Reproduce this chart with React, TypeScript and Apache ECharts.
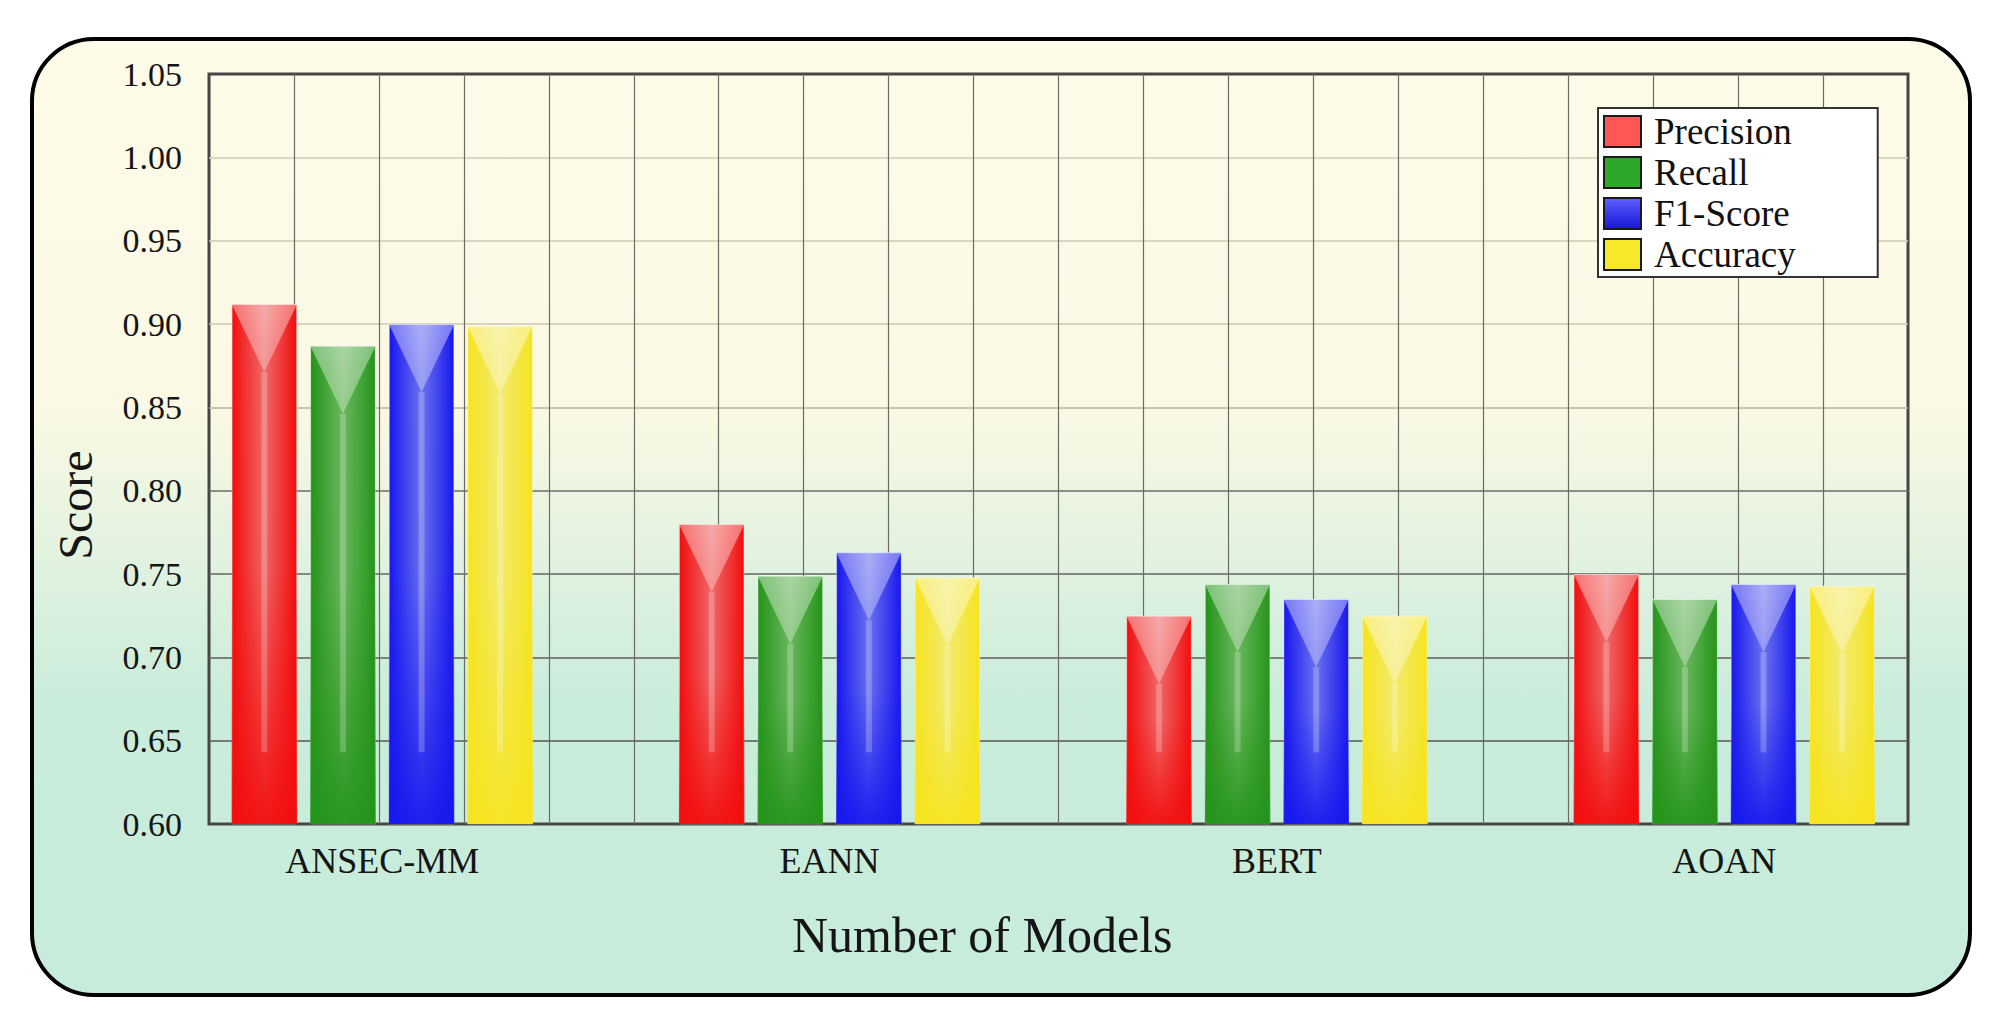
import React, { useEffect, useRef } from "react";
import * as echarts from "echarts";

// ---- data ----
const categories = ["ANSEC-MM", "EANN", "BERT", "AOAN"];
const seriesNames = ["Precision", "Recall", "F1-Score", "Accuracy"];
const precision = [0.912, 0.78, 0.725, 0.75];
const recall = [0.887, 0.749, 0.744, 0.735];
const f1Score = [0.9, 0.763, 0.735, 0.744];
const accuracy = [0.899, 0.748, 0.725, 0.743];
const yMin = 0.6;
const yMax = 1.05;
const yStep = 0.05;
const stripeEnd = 0.643;
const gridColumns = 20;

const seriesValues = [precision, recall, f1Score, accuracy];

// ---- styles ----
const FONT = "'Liberation Serif', 'Times New Roman', serif";
const baseColors = ["#f20d0d", "#24941a", "#1717ee", "#f6e41f"];
const lightColors = ["#ef6b6b", "#6cb85f", "#6d74ef", "#f2ea72"];
const legendColors: any[] = [
  "#ff5656",
  "#2fa82a",
  { type: "linear", x: 0, y: 0, x2: 0, y2: 1, colorStops: [{ offset: 0, color: "#6060ff" }, { offset: 1, color: "#1616d6" }] },
  "#f8e82a",
];

const BAR_W = 65.5;
const GAP_RATIO = 0.2;
const V_DEPTH = 68;

function hexToRgba(hex: string, a: number) {
  const h = hex.replace("#", "");
  const r = parseInt(h.slice(0, 2), 16);
  const g = parseInt(h.slice(2, 4), 16);
  const b = parseInt(h.slice(4, 6), 16);
  return `rgba(${r},${g},${b},${a})`;
}

export default function App() {
  const ref = useRef<HTMLDivElement>(null);

  useEffect(() => {
    if (!ref.current) return;
    const chart = echarts.init(ref.current, undefined, { renderer: "svg" });

    const barSeries = seriesNames.map((name, k) => ({
      name,
      type: "bar",
      xAxisIndex: 1,
      yAxisIndex: 1,
      barWidth: BAR_W,
      barGap: `${GAP_RATIO * 100}%`,
      data: seriesValues[k],
      z: 3,
      itemStyle: {
        color: {
          type: "linear",
          x: 0,
          y: 0,
          x2: 1,
          y2: 0,
          colorStops: [
            { offset: 0, color: baseColors[k] },
            { offset: 0.5, color: lightColors[k] },
            { offset: 1, color: baseColors[k] },
          ],
        },
        borderColor: "rgba(255,255,255,0.35)",
        borderWidth: 1,
      },
    }));

    const glossSeries = seriesNames.map((name, k) => ({
      name,
      type: "custom",
      xAxisIndex: 1,
      yAxisIndex: 1,
      silent: true,
      z: 4,
      data: seriesValues[k].map((v, i) => [i, v]),
      renderItem: (params: any, api: any) => {
        const c = api.value(0);
        const v = api.value(1);
        const top = api.coord([c, v]);
        const base = api.coord([c, yMin]);
        const lineEnd = api.coord([c, stripeEnd]);
        const cx = top[0] + (k - 1.5) * (BAR_W * (1 + GAP_RATIO));
        const x0 = cx - BAR_W / 2;
        const h = base[1] - top[1];
        const tipY = top[1] + V_DEPTH;
        return {
          type: "group",
          children: [
            {
              type: "rect",
              shape: { x: x0, y: top[1], width: BAR_W, height: h },
              style: {
                fill: {
                  type: "linear",
                  x: 0,
                  y: 0,
                  x2: 0,
                  y2: 1,
                  colorStops: [
                    { offset: 0, color: hexToRgba(baseColors[k], 0) },
                    { offset: 0.5, color: hexToRgba(baseColors[k], 0.05) },
                    { offset: 1, color: hexToRgba(baseColors[k], 0.9) },
                  ],
                },
              },
            },
            {
              type: "polygon",
              shape: { points: [[x0, top[1]], [x0 + BAR_W, top[1]], [cx, tipY]] },
              style: {
                fill: {
                  type: "linear",
                  x: 0,
                  y: 0,
                  x2: 0,
                  y2: 1,
                  colorStops: [
                    { offset: 0, color: "rgba(255,255,255,0.42)" },
                    { offset: 1, color: "rgba(255,255,255,0.3)" },
                  ],
                },
              },
            },
            {
              type: "rect",
              shape: { x: cx - 3, y: tipY, width: 6, height: Math.max(0, lineEnd[1] - tipY) },
              style: { fill: "rgba(255,255,255,0.22)" },
            },
          ],
        };
      },
    }));

    const option: any = {
      animation: false,
      backgroundColor: "#ffffff",
      graphic: [
        {
          type: "rect",
          z: -10,
          silent: true,
          shape: { x: 32, y: 39, width: 1938, height: 956, r: 62 },
          style: {
            fill: {
              type: "linear",
              x: 0,
              y: 0,
              x2: 0,
              y2: 1,
              colorStops: [
                { offset: 0, color: "#fefbe8" },
                { offset: 0.38, color: "#fbf9e4" },
                { offset: 0.7, color: "#c9ecdb" },
                { offset: 1, color: "#c8ecdb" },
              ],
            },
            stroke: "#000000",
            lineWidth: 4,
          },
        },
      ],
      legend: {
        orient: "vertical",
        left: 1598,
        top: 108,
        itemWidth: 37,
        itemHeight: 31,
        itemGap: 4,
        padding: [5, 82, 4, 5],
        backgroundColor: "#ffffff",
        borderColor: "#333333",
        borderWidth: 2,
        selectedMode: false,
        icon: "rect",
        textStyle: { fontFamily: FONT, fontSize: 37, color: "#111111", padding: [0, 0, 0, 8] },
        data: seriesNames.map((name, k) => ({
          name,
          icon: "rect",
          itemStyle: { color: legendColors[k], borderColor: "#1a1a1a", borderWidth: 2 },
        })),
      },
      grid: [
        {
          left: 209,
          right: 83,
          top: 74,
          bottom: 194,
          show: true,
          backgroundColor: "transparent",
          borderColor: "#454545",
          borderWidth: 3,
          outerBoundsMode: "none",
        },
        {
          left: 158.6,
          right: 43.1,
          top: 74,
          bottom: 194,
          outerBoundsMode: "none",
        },
      ],
      xAxis: [
        {
          type: "value",
          gridIndex: 0,
          min: 0,
          max: gridColumns,
          interval: 1,
          axisLabel: { show: false },
          axisLine: { show: false },
          axisTick: { show: false },
          splitLine: {
            show: true,
            showMinLine: false,
            showMaxLine: false,
            lineStyle: { color: "#6c6c62", width: 1.2 },
          },
        },
        {
          type: "category",
          gridIndex: 1,
          data: categories,
          boundaryGap: true,
          axisLine: { show: false },
          axisTick: { show: false },
          splitLine: { show: false },
          axisLabel: { interval: 0, fontFamily: FONT, fontSize: 36, color: "#151515", margin: 19 },
          name: "Number of Models",
          nameLocation: "middle",
          nameGap: 86,
          nameTextStyle: { fontFamily: FONT, fontSize: 50, color: "#151515", padding: [0, 142, 0, 0] },
        },
      ],
      yAxis: [
        {
          type: "value",
          gridIndex: 0,
          min: yMin,
          max: yMax,
          interval: yStep,
          axisLine: { show: false },
          axisTick: { show: false },
          axisLabel: {
            fontFamily: FONT,
            fontSize: 34,
            color: "#151515",
            margin: 27,
            formatter: (v: number) => v.toFixed(2),
          },
          splitLine: {
            show: true,
            showMinLine: false,
            showMaxLine: false,
            lineStyle: {
              width: 1.6,
              color: {
                type: "linear",
                global: true,
                x: 0,
                y: 74,
                x2: 0,
                y2: 824,
                colorStops: [
                  { offset: 0, color: "#d2cfb9" },
                  { offset: 0.42, color: "#c9c6b0" },
                  { offset: 0.55, color: "#6c6c64" },
                  { offset: 1, color: "#505050" },
                ],
              },
            },
          },
          name: "Score",
          nameLocation: "middle",
          nameGap: 110,
          nameTextStyle: { fontFamily: FONT, fontSize: 48, color: "#151515", padding: [0, 112, 0, 0] },
        },
        {
          type: "value",
          gridIndex: 1,
          min: yMin,
          max: yMax,
          interval: yStep,
          show: false,
          splitLine: { show: false },
        },
      ],
      series: [...barSeries, ...glossSeries],
    };

    chart.setOption(option);
    return () => chart.dispose();
  }, []);

  return (
    <div
      ref={ref}
      style={{ position: "fixed", left: 0, top: 0, width: 1991, height: 1018 }}
    />
  );
}
